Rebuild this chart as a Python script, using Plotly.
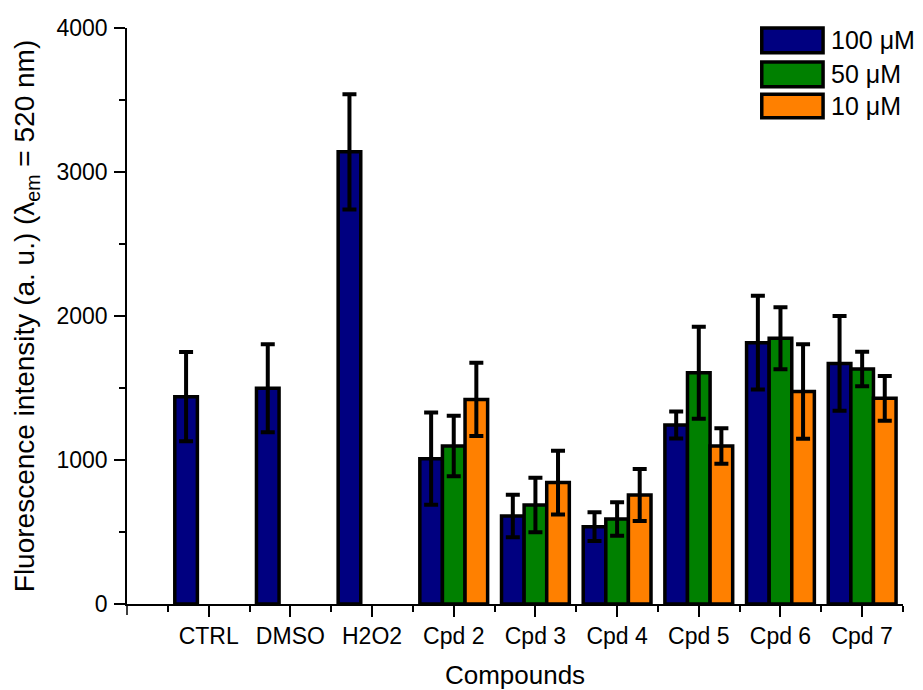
import plotly.graph_objects as go

categories = ["CTRL", "DMSO", "H2O2", "Cpd 2", "Cpd 3", "Cpd 4", "Cpd 5", "Cpd 6", "Cpd 7"]
series_names = ["100 μM", "50 μM", "10 μM"]
vals_100 = [1440, 1498, 3140, 1009, 611, 537, 1243, 1815, 1671]
err_100 = [310, 305, 400, 320, 148, 100, 93, 325, 329]
vals_50 = [None, None, None, 1097, 688, 590, 1606, 1845, 1632]
err_50 = [0, 0, 0, 210, 189, 116, 320, 215, 120]
vals_10 = [None, None, None, 1421, 843, 757, 1097, 1475, 1428]
err_10 = [0, 0, 0, 255, 222, 181, 123, 328, 155]
colors = ["#000080", "#008000", "#FF8000"]
y_tick_vals = [0, 1000, 2000, 3000, 4000]

x_pos = list(range(len(categories)))
FONT = "Liberation Sans, Arial, sans-serif"

fig = go.Figure()
for name, vals, errs, col in zip(series_names, [vals_100, vals_50, vals_10],
                                  [err_100, err_50, err_10], colors):
    fig.add_trace(go.Bar(
        x=x_pos, y=vals, name=name,
        marker=dict(color=col, line=dict(color="black", width=3.5)),
        error_y=dict(type="data", array=errs, visible=True, color="black",
                     thickness=4, width=7),
        showlegend=False,
    ))

# page body has an 8px margin, so the figure is sized to fit the 923x690 window
fig.update_layout(
    width=915, height=682,
    margin=dict(l=119, r=20, t=20, b=86),
    paper_bgcolor="white", plot_bgcolor="white",
    barmode="group", bargap=0.17, bargroupgap=0,
    font=dict(family=FONT, color="black"),
)

fig.update_xaxes(
    range=[-1, 8.5],
    automargin=False,
    tickmode="array",
    tickvals=x_pos,
    ticktext=categories,
    ticks="outside", ticklen=11, tickwidth=1.5, tickcolor="black",
    minor=dict(tickmode="array", tickvals=[i - 0.5 for i in range(len(categories) + 1)],
               ticks="outside", ticklen=6, tickwidth=1.5, tickcolor="black"),
    showline=True, linecolor="black", linewidth=1.5,
    showgrid=False, zeroline=False,
    tickfont=dict(size=23, family=FONT),
    title=dict(text="Compounds", font=dict(size=26, family=FONT), standoff=20),
)

fig.update_yaxes(
    range=[0, 4000],
    automargin=False,
    tickmode="array", tickvals=y_tick_vals,
    ticks="outside", ticklen=11, tickwidth=1.5, tickcolor="black",
    minor=dict(tickmode="linear", tick0=0, dtick=500,
               ticks="outside", ticklen=6, tickwidth=1.5, tickcolor="black"),
    showline=True, linecolor="black", linewidth=1.5,
    showgrid=False, zeroline=False,
    tickfont=dict(size=23, family=FONT),
    ticklabelstandoff=2,
    title=dict(text="Fluorescence intensity (a. u.) (λ<sub>em</sub> = 520 nm)",
               font=dict(size=28, family=FONT), standoff=14),
)

# major tick at the left end of the x axis
fig.add_shape(type="line", xref="paper", yref="paper", x0=0, x1=0,
              y0=0, y1=-11 / 576, line=dict(color="black", width=1.5))

# Custom legend (large swatches as in the reference)
legend_rows = [(1.0, 0.957), (0.941, 0.898), (0.885, 0.844)]
for (y1, y0), name, col in zip(legend_rows, series_names, colors):
    fig.add_shape(type="rect", xref="paper", yref="paper",
                  x0=0.818, x1=0.897, y0=y0, y1=y1,
                  fillcolor=col, line=dict(color="black", width=3.5))
    fig.add_annotation(xref="paper", yref="paper", x=0.905, y=(y0 + y1) / 2,
                       text=name, showarrow=False, xanchor="left", yanchor="middle",
                       font=dict(size=25, family=FONT, color="black"))

fig.write_html("out.html")
